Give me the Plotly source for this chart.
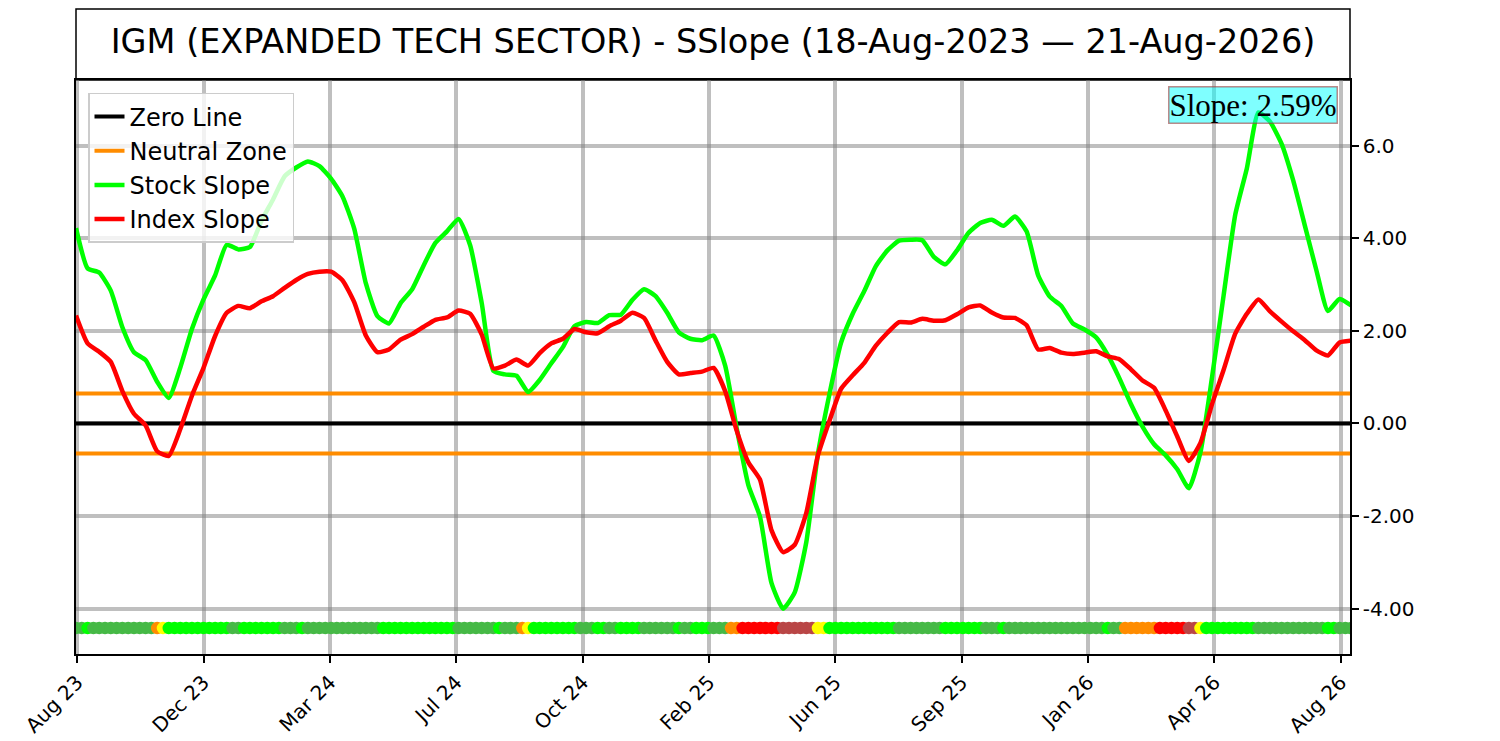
"""IGM slope chart: stock vs index slope with neutral zone and state strip."""
import pandas as pd
import plotly.graph_objects as go

TITLE = "IGM (EXPANDED TECH SECTOR) - SSlope (18-Aug-2023 — 21-Aug-2026)"
START = "2023-08-18"
END = "2026-08-21"

# slope readings, one every 10 days from START
STOCK_SLOPE = [
    4.22, 3.35, 3.26, 2.87, 2.08, 1.54, 1.37, 0.90, 0.55, 1.21,
    2.04, 2.68, 3.20, 3.86, 3.76, 3.81, 4.38, 4.84, 5.34, 5.53,
    5.66, 5.56, 5.29, 4.90, 4.21, 3.03, 2.32, 2.16, 2.60, 2.90,
    3.42, 3.90, 4.15, 4.42, 3.85, 2.60, 1.14, 1.06, 1.03, 0.68,
    0.94, 1.30, 1.65, 2.10, 2.19, 2.17, 2.34, 2.35, 2.67, 2.90,
    2.75, 2.39, 1.97, 1.83, 1.80, 1.90, 1.25, -0.11, -1.33, -2.01,
    -3.45, -4.00, -3.65, -2.56, -0.66, 0.64, 1.75, 2.37, 2.86, 3.40,
    3.74, 3.95, 3.97, 3.96, 3.60, 3.44, 3.74, 4.12, 4.33, 4.40,
    4.27, 4.47, 4.15, 3.20, 2.74, 2.54, 2.16, 2.03, 1.86, 1.48,
    0.98, 0.42, -0.07, -0.45, -0.69, -0.99, -1.40, -0.62, 1.00, 2.77,
    4.51, 5.51, 6.72, 6.52, 6.04, 5.25, 4.28, 3.31, 2.43, 2.69,
    2.55,
]
INDEX_SLOPE = [
    2.33, 1.73, 1.55, 1.33, 0.70, 0.21, -0.04, -0.60, -0.70, -0.12,
    0.60, 1.20, 1.89, 2.39, 2.54, 2.49, 2.64, 2.75, 2.93, 3.10,
    3.23, 3.28, 3.28, 3.09, 2.62, 1.90, 1.54, 1.60, 1.81, 1.93,
    2.09, 2.24, 2.29, 2.44, 2.37, 1.92, 1.19, 1.25, 1.38, 1.25,
    1.52, 1.73, 1.83, 2.04, 1.97, 1.95, 2.10, 2.22, 2.39, 2.28,
    1.79, 1.33, 1.06, 1.09, 1.12, 1.20, 0.70, -0.16, -0.84, -1.21,
    -2.31, -2.78, -2.62, -1.93, -0.69, 0.06, 0.75, 1.04, 1.31, 1.68,
    1.96, 2.19, 2.18, 2.26, 2.22, 2.23, 2.36, 2.51, 2.55, 2.40,
    2.29, 2.28, 2.12, 1.60, 1.63, 1.53, 1.50, 1.53, 1.56, 1.45,
    1.39, 1.17, 0.93, 0.77, 0.28, -0.28, -0.81, -0.42, 0.42, 1.16,
    1.94, 2.37, 2.68, 2.42, 2.20, 1.99, 1.80, 1.58, 1.47, 1.75,
    1.79,
]
NEUTRAL = 0.65
CURRENT_SLOPE = 2.59

# state strip, one code every 5 days from START
STRIP_STATE = (
    "DDGDDDDDDDDDDDOYGGGGGGGGGGGDDGGGGGGGDDDGDDDDDDDDDDDDD"
    "GGGGGGGGGGGGGDDDDDDDGDDDOYGGGGGGGGDDDGGDDGGGGDDDDDDGDDGGGDDD"
    "OORRRRRRRBBBBBBYYGGGGGGGGGGGGDDDDDDDDGGGGGGGDDDG"
    "DDDDDDDDDDDDDDDDDGDDOOOOOORRRRRBBYGGGGGGGGGDDDDDDDDDDDDGGDDD"
)
STATE_COLORS = {
    "G": "#00FF00", "D": "#46B946", "O": "#FF8C00",
    "Y": "#FFFF00", "R": "#FF0000", "B": "#B94646",
}
STRIP_LEVEL = -4.42

TICK_DATES = ["2023-08-19", "2023-12-06", "2024-03-24", "2024-07-11",
              "2024-10-28", "2025-02-14", "2025-06-03", "2025-09-20",
              "2026-01-07", "2026-04-26", "2026-08-13"]
TICK_LABELS = ["Aug 23", "Dec 23", "Mar 24", "Jul 24", "Oct 24", "Feb 25",
               "Jun 25", "Sep 25", "Jan 26", "Apr 26", "Aug 26"]
Y_TICKS = [-4, -2, 0, 2, 4, 6]
Y_LABELS = ["-4.00", "-2.00", "0.00", "2.00", "4.00", "6.0"]

FONT = "DejaVu Sans"
# the page puts the figure 8px in from the top-left corner
TOP, PLOT_H, PLOT_W, LEFT = 72, 578, 1274, 68

dates = pd.date_range(START, periods=len(STOCK_SLOPE), freq="10D")
strip_dates = pd.date_range(START, periods=len(STRIP_STATE), freq="5D")

fig = go.Figure()
fig.add_trace(go.Scatter(
    x=[START, END], y=[0, 0], mode="lines", name="Zero Line",
    line=dict(color="black", width=4),
))
fig.add_trace(go.Scatter(
    x=[START, END, None, START, END],
    y=[NEUTRAL, NEUTRAL, None, -NEUTRAL, -NEUTRAL],
    mode="lines", name="Neutral Zone",
    line=dict(color="#FF8C00", width=4),
))
fig.add_trace(go.Scatter(
    x=dates, y=STOCK_SLOPE, mode="lines", name="Stock Slope",
    line=dict(color="#00FF00", width=4.5, shape="spline", smoothing=0.5),
))
fig.add_trace(go.Scatter(
    x=dates, y=INDEX_SLOPE, mode="lines", name="Index Slope",
    line=dict(color="#FF0000", width=4.5, shape="spline", smoothing=0.5),
))
fig.add_trace(go.Scatter(
    x=strip_dates, y=[STRIP_LEVEL] * len(STRIP_STATE), mode="markers",
    marker=dict(size=12.5, color=[STATE_COLORS[s] for s in STRIP_STATE],
                line=dict(width=0)),
    showlegend=False, hoverinfo="skip",
))

# title box above the plot
fig.add_shape(type="rect", xref="paper", yref="paper",
              x0=0, x1=1, y0=1, y1=1 + (TOP - 0.5) / PLOT_H,
              line=dict(color="black", width=1.5), fillcolor="white",
              layer="below")

fig.add_annotation(
    text=f"Slope: {CURRENT_SLOPE:.2f}%", xref="paper", yref="paper",
    x=1 - 12 / PLOT_W, y=1 - 6 / PLOT_H, xanchor="right", yanchor="top",
    showarrow=False, font=dict(family="Liberation Serif", size=31, color="black"),
    bgcolor="rgba(0,255,255,0.5)", bordercolor="rgba(160,60,60,0.6)",
    borderwidth=1.5, borderpad=0,
)

fig.update_layout(
    width=1500, height=741,
    margin=dict(l=LEFT, r=1500 - LEFT - PLOT_W, t=TOP, b=741 - TOP - PLOT_H),
    paper_bgcolor="white", plot_bgcolor="white",
    font=dict(family=FONT, size=20, color="black"),
    title=dict(text=TITLE, x=0.5, xref="paper", y=1 - 33 / 741,
               yref="container", xanchor="center", yanchor="middle",
               font=dict(family=FONT, size=33.5, color="black")),
    legend=dict(x=12 / PLOT_W, y=1 - 13 / PLOT_H, xanchor="left", yanchor="top",
                bgcolor="rgba(255,255,255,0.8)", bordercolor="#CCCCCC",
                borderwidth=1.5, font=dict(family=FONT, size=24),
                itemwidth=30),
    showlegend=True,
)
fig.update_xaxes(
    type="date", range=[START, END],
    tickvals=TICK_DATES, ticktext=TICK_LABELS, tickangle=-45,
    tickfont=dict(size=20),
    showgrid=True, gridcolor="rgba(128,128,128,0.5)", gridwidth=4,
    showline=True, mirror=True, linecolor="black", linewidth=1.5,
    ticks="outside", ticklen=7, tickwidth=1.5, tickcolor="black",
    zeroline=False,
)
fig.update_yaxes(
    range=[-4.98, 7.42], side="right",
    tickvals=Y_TICKS, ticktext=Y_LABELS, tickfont=dict(size=20),
    showgrid=True, gridcolor="rgba(128,128,128,0.5)", gridwidth=4,
    showline=True, mirror=True, linecolor="black", linewidth=1.5,
    ticks="outside", ticklen=7, tickwidth=1.5, tickcolor="black",
    zeroline=False,
)

fig.write_html("out.html")
